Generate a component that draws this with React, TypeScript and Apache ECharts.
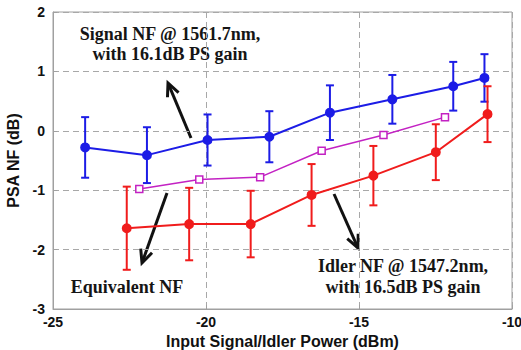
import React, { useEffect, useRef } from "react";
import * as echarts from "echarts";

// Signal NF @ 1561.7nm (blue)
const signalX = [-23.95, -21.93, -19.95, -17.93, -15.95, -13.91, -11.92, -10.9];
const signalY = [-0.28, -0.41, -0.155, -0.1, 0.305, 0.53, 0.75, 0.89];
const signalErr = [0.51, 0.47, 0.43, 0.43, 0.46, 0.41, 0.41, 0.4];

// Equivalent NF (magenta)
const equivX = [-22.18, -20.22, -18.23, -16.22, -14.2, -12.19];
const equivY = [-0.98, -0.82, -0.78, -0.335, -0.07, 0.23];

// Idler NF @ 1547.2nm (red)
const idlerX = [-22.59, -20.55, -18.54, -16.55, -14.53, -12.49, -10.8];
const idlerY = [-1.64, -1.57, -1.57, -1.08, -0.755, -0.36, 0.28];
const idlerErr = [0.7, 0.61, 0.56, 0.52, 0.5, 0.47, 0.47];

const xTicks = [-25, -20, -15, -10];
const yTicks = [-3, -2, -1, 0, 1, 2];

const BLUE = "#1c1ce6";
const RED = "#f01c1c";
const MAGENTA = "#c322c3";

function arrow(tail: number[], tip: number[]) {
  const dx = tip[0] - tail[0];
  const dy = tip[1] - tail[1];
  const len = Math.hypot(dx, dy);
  const ux = dx / len;
  const uy = dy / len;
  const hl = 13;
  const hw = 6;
  const bx = tip[0] - ux * hl;
  const by = tip[1] - uy * hl;
  return [
    {
      type: "line",
      shape: { x1: tail[0], y1: tail[1], x2: tip[0] - ux * 1.5, y2: tip[1] - uy * 1.5 },
      style: { stroke: "#111", lineWidth: 3 },
    },
    {
      type: "polyline",
      shape: {
        points: [
          [bx - uy * hw, by + ux * hw],
          [tip[0], tip[1]],
          [bx + uy * hw, by - ux * hw],
        ],
      },
      style: { stroke: "#111", lineWidth: 3, fill: "none" },
    },
  ];
}

function label(text: string, x: number, y: number) {
  return {
    type: "text",
    x,
    y,
    style: {
      text,
      font: 'bold 18px "Liberation Serif"',
      fill: "#151515",
      align: "center",
      verticalAlign: "middle",
    },
  };
}

function errSeries(xs: number[], ys: number[], es: number[], color: string) {
  return {
    type: "custom",
    data: xs.map((x, i) => [x, ys[i] - es[i], ys[i] + es[i]]),
    encode: { x: 0, y: [1, 2] },
    z: 2,
    renderItem: (params: any, api: any) => {
      const x = api.value(0);
      const p1 = api.coord([x, api.value(2)]);
      const p2 = api.coord([x, api.value(1)]);
      const w = 4;
      const st = { stroke: color, lineWidth: 2 };
      return {
        type: "group",
        children: [
          { type: "line", shape: { x1: p1[0], y1: p1[1], x2: p2[0], y2: p2[1] }, style: st },
          { type: "line", shape: { x1: p1[0] - w, y1: p1[1], x2: p1[0] + w, y2: p1[1] }, style: st },
          { type: "line", shape: { x1: p2[0] - w, y1: p2[1], x2: p2[0] + w, y2: p2[1] }, style: st },
        ],
      };
    },
  };
}

export default function App() {
  const ref = useRef<HTMLDivElement>(null);
  useEffect(() => {
    if (!ref.current) return;
    const chart = echarts.init(ref.current, null, { renderer: "svg" });
    const gridLine = { show: true, lineStyle: { color: "#a8a8a8", type: [6, 4], width: 1 } };
    chart.setOption({
      animation: false,
      backgroundColor: "#ffffff",
      grid: {
        left: 53,
        right: 9,
        top: 12,
        bottom: 41,
        show: true,
        borderColor: "#a0a0a0",
        borderWidth: 1,
        containLabel: false,
        outerBoundsMode: "none",
      },
      xAxis: {
        type: "value",
        min: xTicks[0],
        max: xTicks[xTicks.length - 1],
        interval: 5,
        name: "Input Signal/Idler Power (dBm)",
        nameLocation: "middle",
        nameGap: 21,
        nameTextStyle: { fontFamily: "Liberation Sans", fontWeight: "bold", fontSize: 16, color: "#111" },
        axisLine: { show: true, onZero: false, lineStyle: { color: "#a0a0a0" } },
        axisTick: { show: true, inside: true, length: 4, lineStyle: { color: "#a0a0a0" } },
        axisLabel: { fontFamily: "Liberation Sans", fontWeight: "bold", fontSize: 14, color: "#111", margin: 6 },
        splitLine: gridLine,
      },
      yAxis: {
        type: "value",
        min: yTicks[0],
        max: yTicks[yTicks.length - 1],
        interval: 1,
        name: "PSA NF (dB)",
        nameLocation: "middle",
        nameGap: 26,
        nameTextStyle: { fontFamily: "Liberation Sans", fontWeight: "bold", fontSize: 16, color: "#111" },
        axisLine: { show: true, onZero: false, lineStyle: { color: "#a0a0a0" } },
        axisTick: { show: true, inside: true, length: 4, lineStyle: { color: "#a0a0a0" } },
        axisLabel: { fontFamily: "Liberation Sans", fontWeight: "bold", fontSize: 14, color: "#111", margin: 8 },
        splitLine: gridLine,
      },
      series: [
        errSeries(signalX, signalY, signalErr, BLUE),
        errSeries(idlerX, idlerY, idlerErr, RED),
        {
          type: "line",
          data: signalX.map((x, i) => [x, signalY[i]]),
          lineStyle: { color: BLUE, width: 2 },
          itemStyle: { color: BLUE, borderColor: BLUE, borderWidth: 2 },
          symbol: "circle",
          symbolSize: 8,
          z: 3,
        },
        {
          type: "line",
          data: equivX.map((x, i) => [x, equivY[i]]),
          lineStyle: { color: MAGENTA, width: 1.5 },
          itemStyle: { color: "#ffffff", borderColor: MAGENTA, borderWidth: 1.5 },
          symbol: "rect",
          symbolSize: 7,
          z: 3,
        },
        {
          type: "line",
          data: idlerX.map((x, i) => [x, idlerY[i]]),
          lineStyle: { color: RED, width: 2 },
          itemStyle: { color: RED, borderColor: RED, borderWidth: 2 },
          symbol: "circle",
          symbolSize: 8,
          z: 3,
        },
      ],
      graphic: [
        label("Signal NF @ 1561.7nm,", 170, 34),
        label("with 16.1dB PS gain", 170, 54),
        label("Equivalent NF", 127, 287),
        label("Idler NF @ 1547.2nm,", 403, 266),
        label("with 16.5dB PS gain", 403, 287),
        ...arrow([191, 138], [168, 83]),
        ...arrow([167, 193], [142, 263]),
        ...arrow([334, 194], [358, 248]),
      ],
    });
    return () => chart.dispose();
  }, []);
  return (
    <div
      ref={ref}
      style={{ position: "absolute", left: 0, top: 0, width: 521, height: 350 }}
    />
  );
}
